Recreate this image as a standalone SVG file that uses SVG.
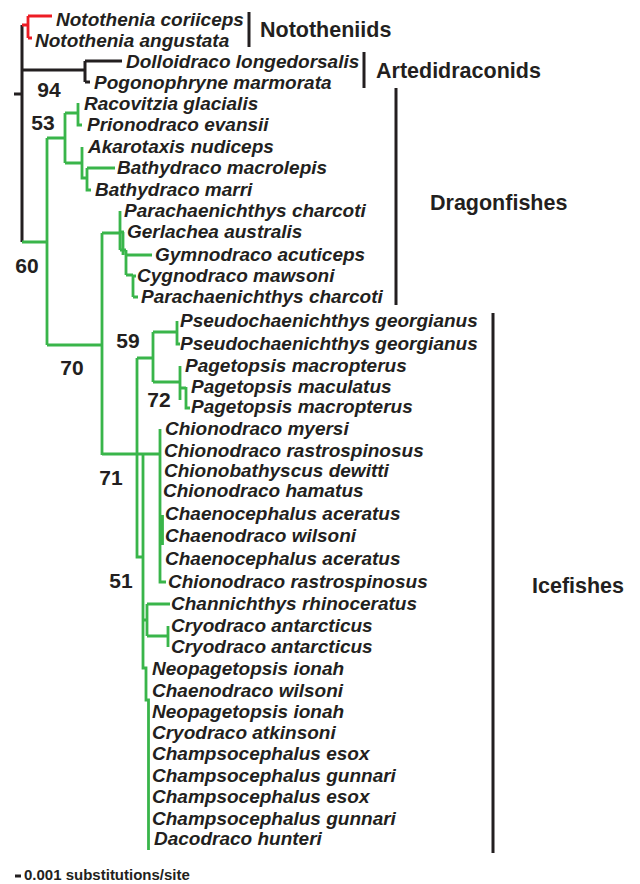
<svg xmlns="http://www.w3.org/2000/svg" width="640" height="884" viewBox="0 0 640 884">
<style>
.tx{font-family:"Liberation Sans",Arial,sans-serif;font-weight:bold;font-style:italic;font-size:19px;fill:#231f20}
.grp{font-family:"Liberation Sans",Arial,sans-serif;font-weight:bold;font-size:21.5px;fill:#231f20}
.sup{font-family:"Liberation Sans",Arial,sans-serif;font-weight:bold;font-size:21px;fill:#231f20;text-anchor:middle}
.sc{font-family:"Liberation Sans",Arial,sans-serif;font-weight:bold;font-size:15px;fill:#231f20}
.bk{stroke:#231f20;stroke-width:3;fill:none}
.rd{stroke:#ed1c24;stroke-width:2.8;fill:none}
.gn{stroke:#39b54a;stroke-width:2.8;fill:none}
.bar{stroke:#231f20;stroke-width:3;fill:none}
</style>
<rect width="640" height="884" fill="#ffffff"/>
<g id="connectors">
<path class="bk" d="M22,25 V242 M14,94 H22 M22,70 H85 M85,61 V82 M85,61 H122 M85,82 H90"/>
<path class="rd" d="M22,25 H28 M28,16 V38 M28,16 H52 M28,38 H32"/>
<path class="gn" d="M22,242 H47 M47,138 V345 M47,138 H65 M65,113 V163 M65,113 H78 M78,103 V125 H82 M65,163 H82 M82,147 V178 H87 M87,168 V190 H91 M87,168 H115"/>
<path class="gn" d="M47,345 H102 M102,233 V455 M102,233 H120 M120,211 V250 M120,232 H124 M123,232 V255 M120,250 H126 M126,250 V275 M126,255 H152 M126,275 H133 M133,276 V297 M133,276 H136 M133,297 H138"/>
<path class="gn" d="M102,454 H160 M137,358 V557 H143 M137,358 H153 M153,332 V382 M153,332 H177 M177,321 V344 H180 M153,382 H180 M180,366 V400 M180,388 H186 M186,387 V408 H190"/>
<path class="gn" d="M160,429 V582 H166 M162.5,515 V545"/>
<path class="gn" d="M143,454 V668 H146 V700 H148.5 V850 M143,620 H147 M147,604 V636 M147,604 H170 M147,636 H168 M168,626 V647"/>
</g>
<g id="bars">
<line class="bar" x1="249" y1="12" x2="249" y2="47"/>
<line class="bar" x1="364" y1="52" x2="364" y2="88"/>
<line class="bar" x1="396" y1="88" x2="396" y2="305"/>
<line class="bar" x1="493" y1="313" x2="493" y2="853"/>
</g>
<g id="t0"><text class="tx" x="56" y="26">Notothenia coriiceps</text></g>
<g id="t1"><text class="tx" x="35" y="47">Notothenia angustata</text></g>
<g id="t2"><text class="tx" x="126" y="68">Dolloidraco longedorsalis</text></g>
<g id="t3"><text class="tx" x="94" y="89">Pogonophryne marmorata</text></g>
<g id="t4"><text class="tx" x="84" y="110">Racovitzia glacialis</text></g>
<g id="t5"><text class="tx" x="87" y="131">Prionodraco evansii</text></g>
<g id="t6"><text class="tx" x="88" y="153">Akarotaxis nudiceps</text></g>
<g id="t7"><text class="tx" x="117" y="174">Bathydraco macrolepis</text></g>
<g id="t8"><text class="tx" x="95" y="196">Bathydraco marri</text></g>
<g id="t9"><text class="tx" x="124" y="217">Parachaenichthys charcoti</text></g>
<g id="t10"><text class="tx" x="127" y="238">Gerlachea australis</text></g>
<g id="t11"><text class="tx" x="155" y="261">Gymnodraco acuticeps</text></g>
<g id="t12"><text class="tx" x="137" y="282">Cygnodraco mawsoni</text></g>
<g id="t13"><text class="tx" x="141" y="303">Parachaenichthys charcoti</text></g>
<g id="t14"><text class="tx" x="180" y="327">Pseudochaenichthys georgianus</text></g>
<g id="t15"><text class="tx" x="180" y="350">Pseudochaenichthys georgianus</text></g>
<g id="t16"><text class="tx" x="185" y="372">Pagetopsis macropterus</text></g>
<g id="t17"><text class="tx" x="191" y="393">Pagetopsis maculatus</text></g>
<g id="t18"><text class="tx" x="191" y="413">Pagetopsis macropterus</text></g>
<g id="t19"><text class="tx" x="165" y="435">Chionodraco myersi</text></g>
<g id="t20"><text class="tx" x="164" y="457">Chionodraco rastrospinosus</text></g>
<g id="t21"><text class="tx" x="164" y="477">Chionobathyscus dewitti</text></g>
<g id="t22"><text class="tx" x="163" y="497">Chionodraco hamatus</text></g>
<g id="t23"><text class="tx" x="165" y="520">Chaenocephalus aceratus</text></g>
<g id="t24"><text class="tx" x="165" y="542">Chaenodraco wilsoni</text></g>
<g id="t25"><text class="tx" x="165" y="565">Chaenocephalus aceratus</text></g>
<g id="t26"><text class="tx" x="168" y="588">Chionodraco rastrospinosus</text></g>
<g id="t27"><text class="tx" x="171" y="610">Channichthys rhinoceratus</text></g>
<g id="t28"><text class="tx" x="171" y="632">Cryodraco antarcticus</text></g>
<g id="t29"><text class="tx" x="171" y="653">Cryodraco antarcticus</text></g>
<g id="t30"><text class="tx" x="152" y="675">Neopagetopsis ionah</text></g>
<g id="t31"><text class="tx" x="152" y="697">Chaenodraco wilsoni</text></g>
<g id="t32"><text class="tx" x="152" y="718">Neopagetopsis ionah</text></g>
<g id="t33"><text class="tx" x="152" y="739">Cryodraco atkinsoni</text></g>
<g id="t34"><text class="tx" x="152" y="760">Champsocephalus esox</text></g>
<g id="t35"><text class="tx" x="152" y="782">Champsocephalus gunnari</text></g>
<g id="t36"><text class="tx" x="152" y="803">Champsocephalus esox</text></g>
<g id="t37"><text class="tx" x="152" y="825">Champsocephalus gunnari</text></g>
<g id="t38"><text class="tx" x="154" y="845">Dacodraco hunteri</text></g>
<g id="g-nototheniids"><text class="grp" x="260" y="37">Nototheniids</text></g>
<g id="g-artedidraconids"><text class="grp" x="376" y="78">Artedidraconids</text></g>
<g id="g-dragonfishes"><text class="grp" x="430" y="210">Dragonfishes</text></g>
<g id="g-icefishes"><text class="grp" x="532" y="593">Icefishes</text></g>
<g id="supports">
<text class="sup" x="49" y="97">94</text>
<text class="sup" x="43" y="130">53</text>
<text class="sup" x="27" y="273">60</text>
<text class="sup" x="72" y="375">70</text>
<text class="sup" x="128" y="348">59</text>
<text class="sup" x="159" y="407">72</text>
<text class="sup" x="111" y="485">71</text>
<text class="sup" x="121" y="588">51</text>
</g>
<g id="scale">
<line class="bar" x1="15" y1="876" x2="21" y2="876"/>
<text class="sc" x="24" y="880">0.001 substitutions/site</text>
</g>
</svg>
